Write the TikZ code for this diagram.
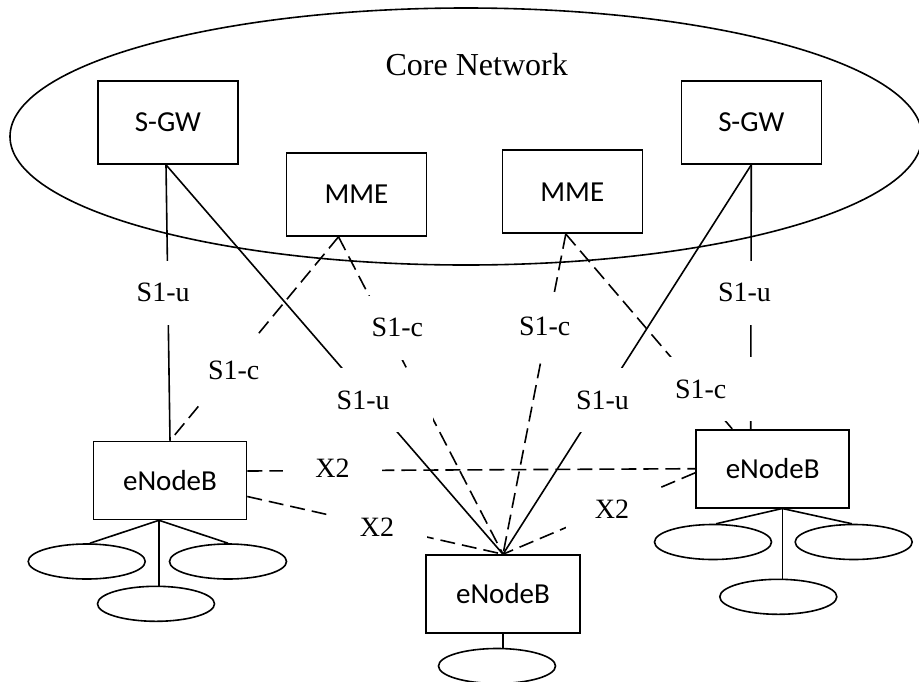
\documentclass[tikz,border=0pt]{standalone}
\usepackage{fontspec}
\setmainfont{Liberation Serif}
\newfontfamily\boxfont{Carlito}
\usetikzlibrary{calc,shapes.geometric}

\begin{document}
\begin{tikzpicture}[x=1pt,y=-1pt,line width=1.6pt,
  entity/.style={draw,rectangle,minimum width=140pt,minimum height=83pt,font=\boxfont\fontsize{29}{31}\selectfont},
  enb/.style={entity,minimum width=153pt,minimum height=78pt},
  cell/.style={draw,ellipse,minimum width=117pt,minimum height=35pt},
  ctrl/.style={dash pattern=on 15pt off 7pt},
  xl/.style={dash pattern=on 15pt off 7pt},
  iface/.style={fill=white,minimum height=64pt,text width=88pt,inner xsep=8pt,align=left,font=\fontsize{28}{30}\selectfont},
  xtwo/.style={fill=white,minimum height=40pt,font=\fontsize{28}{30}\selectfont}]
  \useasboundingbox (0,0) rectangle (919,681);

  % core network
  \draw (466,136.5) ellipse [x radius=456, y radius=128.5];
  \node [anchor=base,font=\fontsize{32}{34}\selectfont] (core) at (476.7,75) {Core Network};

  \node [entity] (sgwL) at (168,122.5) {S-GW};
  \node [entity] (mmeL) at (356.5,194.5) {MME};
  \node [entity] (mmeR) at (572.3,191.7) {MME};
  \node [entity] (sgwR) at (751.3,122.5) {S-GW};

  % eNodeBs
  \node [enb] (enbL) at (170,480.5) {eNodeB};
  \node [enb] (enbR) at (772.7,468.7) {eNodeB};
  \node [enb,minimum width=154pt] (enbM) at (503,594) {eNodeB};

  % S1 links
  \draw ([xshift=-2pt]sgwL.south) -- (enbL.north);
  \draw ([xshift=-2pt]sgwL.south) -- (enbM.north);
  \draw[ctrl] ([xshift=-18pt]mmeL.south) -- (enbL.north);
  \draw[ctrl] ([xshift=-18pt]mmeL.south) -- (enbM.north);
  \draw[ctrl] ([xshift=-6.5pt]mmeR.south) -- (enbM.north);
  \draw[ctrl] ([xshift=-6.5pt]mmeR.south) -- ([xshift=-40.5pt]enbR.north);
  \draw (sgwR.south) -- ([xshift=-22pt]enbR.north);
  \draw (sgwR.south) -- (enbM.north);

  % X2 links
  \draw[xl] ([yshift=9.5pt]enbL.east) -- (enbR.west);
  \draw[xl] ([yshift=-16pt]enbL.east) -- (enbM.north);
  \draw[xl] ([yshift=-4pt]enbR.west) -- (enbM.north);

  \node [iface] (lu1) at (180.7,292.5) {S1-u};
  \node [iface] (lu2) at (380.7,400) {S1-u};
  \node [iface] (lc1) at (252,370) {S1-c};
  \node [iface] (lc2) at (415.7,327.5) {S1-c};
  \node [iface] (lc3) at (563,326) {S1-c};
  \node [iface] (lc4) at (719,389) {S1-c};
  \node [iface] (lu3) at (762,292.5) {S1-u};
  \node [iface] (lu4) at (620,400) {S1-u};

  \node [xtwo,minimum width=99pt] (x2a) at (332.5,468) {X2};
  \node [xtwo,minimum width=100pt] (x2b) at (377,527) {X2};
  \node [xtwo,minimum width=92pt] (x2c) at (612,509) {X2};

  % user equipment
  \node [cell] (cL1) at (86.7,561.5) {};
  \node [cell] (cL2) at (228,561.5) {};
  \node [cell] (cL3) at (156,603.8) {};
  \draw ([xshift=-11pt]enbL.south) -- (cL1.80);
  \draw ([xshift=-11pt]enbL.south) -- (cL2.north);
  \draw ([xshift=-11pt]enbL.south) -- ([xshift=-11pt]enbL.south |- cL3.north);

  \node [cell] (cR1) at (713,542) {};
  \node [cell] (cR2) at (853.7,542) {};
  \node [cell] (cR3) at (778.3,596.8) {};
  \draw ([xshift=9.6pt]enbR.south) -- (cR1.80);
  \draw ([xshift=9.6pt]enbR.south) -- (cR2.96);
  \draw ([xshift=9.6pt]enbR.south) -- ([xshift=9.6pt]enbR.south |- cR3.north);

  \node [cell] (cM) at (497,666) {};
  \draw (enbM.south) -- (enbM.south |- cM.north);
\end{tikzpicture}
\end{document}
